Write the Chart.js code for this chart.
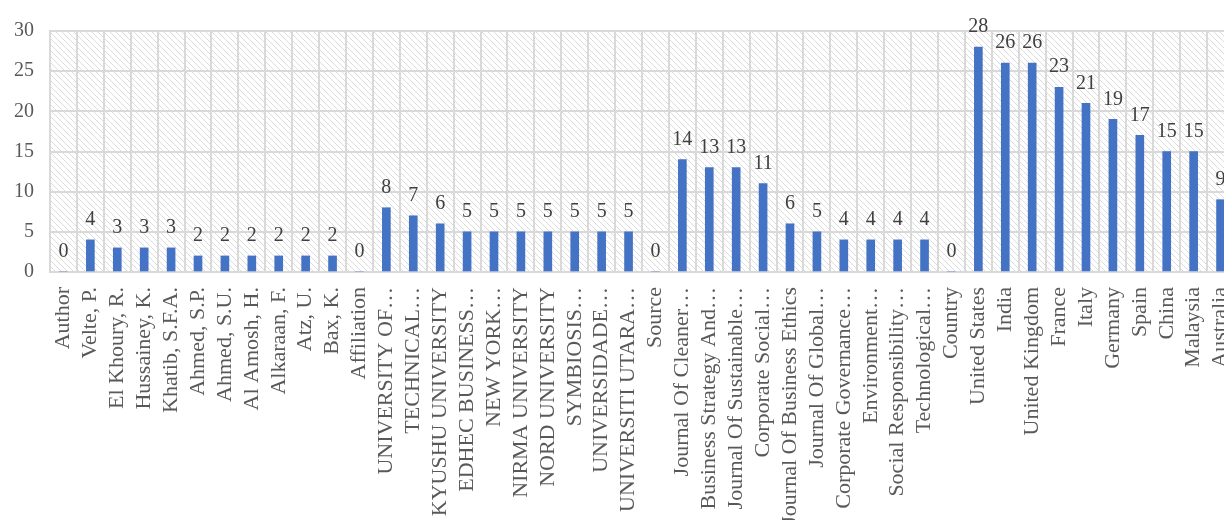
<!DOCTYPE html>
<html>
<head>
<meta charset="utf-8">
<script src="https://cdn.jsdelivr.net/npm/chart.js@4/dist/chart.umd.min.js"></script>
<style>
    html, body { margin: 0; padding: 0; background: #fff; overflow: hidden; }
    canvas { display: block; }
</style>
</head>
<body>
<canvas id="chart" width="1240" height="520"></canvas>
<script>
// categories (groups: author / affiliation / source / country)
const labels = [
    'Author', 'Velte, P.', 'El Khoury, R.', 'Hussainey, K.', 'Khatib, S.F.A.', 'Ahmed, S.P.',
    'Ahmed, S.U.', 'Al Amosh, H.', 'Alkaraan, F.', 'Atz, U.', 'Bax, K.',
    'Affiliation', 'UNIVERSITY OF…', 'TECHNICAL…', 'KYUSHU UNIVERSITY', 'EDHEC BUSINESS…',
    'NEW YORK…', 'NIRMA UNIVERSITY', 'NORD UNIVERSITY', 'SYMBIOSIS…', 'UNIVERSIDADE…',
    'UNIVERSITI UTARA…',
    'Source', 'Journal Of Cleaner…', 'Business Strategy And…', 'Journal Of Sustainable…',
    'Corporate Social…', 'Journal Of Business Ethics', 'Journal Of Global…',
    'Corporate Governance…', 'Environment…', 'Social Responsibility…', 'Technological…',
    'Country', 'United States', 'India', 'United Kingdom', 'France', 'Italy', 'Germany',
    'Spain', 'China', 'Malaysia', 'Australia'
];
const counts = [
    0, 4, 3, 3, 3, 2, 2, 2, 2, 2, 2,
    0, 8, 7, 6, 5, 5, 5, 5, 5, 5, 5,
    0, 14, 13, 13, 11, 6, 5, 4, 4, 4, 4,
    0, 28, 26, 26, 23, 21, 19, 17, 15, 15, 9
];
const yTicks = [0, 5, 10, 15, 20, 25, 30];

const serif = "'Liberation Serif', 'Times New Roman', serif";

// diagonal hatch for the plot background
function makeHatch() {
    const c = document.createElement('canvas');
    c.width = 6; c.height = 6;
    const g = c.getContext('2d');
    g.fillStyle = '#ffffff';
    g.fillRect(0, 0, 6, 6);
    g.strokeStyle = '#dcdcdc';
    g.lineWidth = 1;
    g.beginPath();
    g.moveTo(-1, -1); g.lineTo(7, 7);
    g.moveTo(-1, 5); g.lineTo(1, 7);
    g.moveTo(5, -1); g.lineTo(7, 1);
    g.stroke();
    return g.createPattern(c, 'repeat');
}

const hatchPlugin = {
    id: 'hatch',
    beforeDraw(chart) {
        const a = chart.chartArea;
        const ctx = chart.ctx;
        ctx.save();
        ctx.fillStyle = makeHatch();
        ctx.fillRect(a.left, a.top, a.right - a.left, a.bottom - a.top);
        ctx.restore();
    }
};

// value labels above each bar
const valueLabels = {
    id: 'valueLabels',
    afterDatasetsDraw(chart) {
        const ctx = chart.ctx;
        const meta = chart.getDatasetMeta(0);
        ctx.save();
        ctx.font = '20px ' + serif;
        ctx.fillStyle = '#404040';
        ctx.textAlign = 'center';
        ctx.textBaseline = 'bottom';
        meta.data.forEach((bar, i) => {
            ctx.fillText(String(counts[i]), bar.x, bar.y - 10);
        });
        ctx.restore();
    }
};

new Chart(document.getElementById('chart'), {
    type: 'bar',
    data: {
        labels: labels,
        datasets: [{
            data: counts,
            backgroundColor: '#4472C4',
            barThickness: 8
        }]
    },
    plugins: [hatchPlugin, valueLabels],
    options: {
        responsive: false,
        animation: false,
        layout: { padding: { top: 31, left: 0, right: 6, bottom: 0 } },
        plugins: {
            legend: { display: false },
            tooltip: { enabled: false }
        },
        scales: {
            x: {
                offset: true,
                grid: { color: '#d9d9d9', lineWidth: 2, drawTicks: false, offset: true },
                border: { color: '#d9d9d9', width: 2 },
                ticks: {
                    autoSkip: false,
                    maxRotation: 90,
                    minRotation: 90,
                    padding: 15,
                    color: '#595959',
                    font: { family: serif, size: 22 }
                },
                afterFit(scale) {
                    scale.height = 248;
                    scale.paddingLeft = 0;
                    scale.paddingRight = 0;
                }
            },
            y: {
                min: 0,
                max: 30,
                afterBuildTicks(scale) { scale.ticks = yTicks.map(v => ({ value: v })); },
                grid: { color: '#d9d9d9', lineWidth: 2, drawTicks: false },
                border: { color: '#d9d9d9', width: 2 },
                ticks: {
                    padding: 16,
                    color: '#595959',
                    font: { family: serif, size: 20 }
                },
                afterFit(scale) { scale.width = 50; }
            }
        }
    }
});
</script>
</body>
</html>
